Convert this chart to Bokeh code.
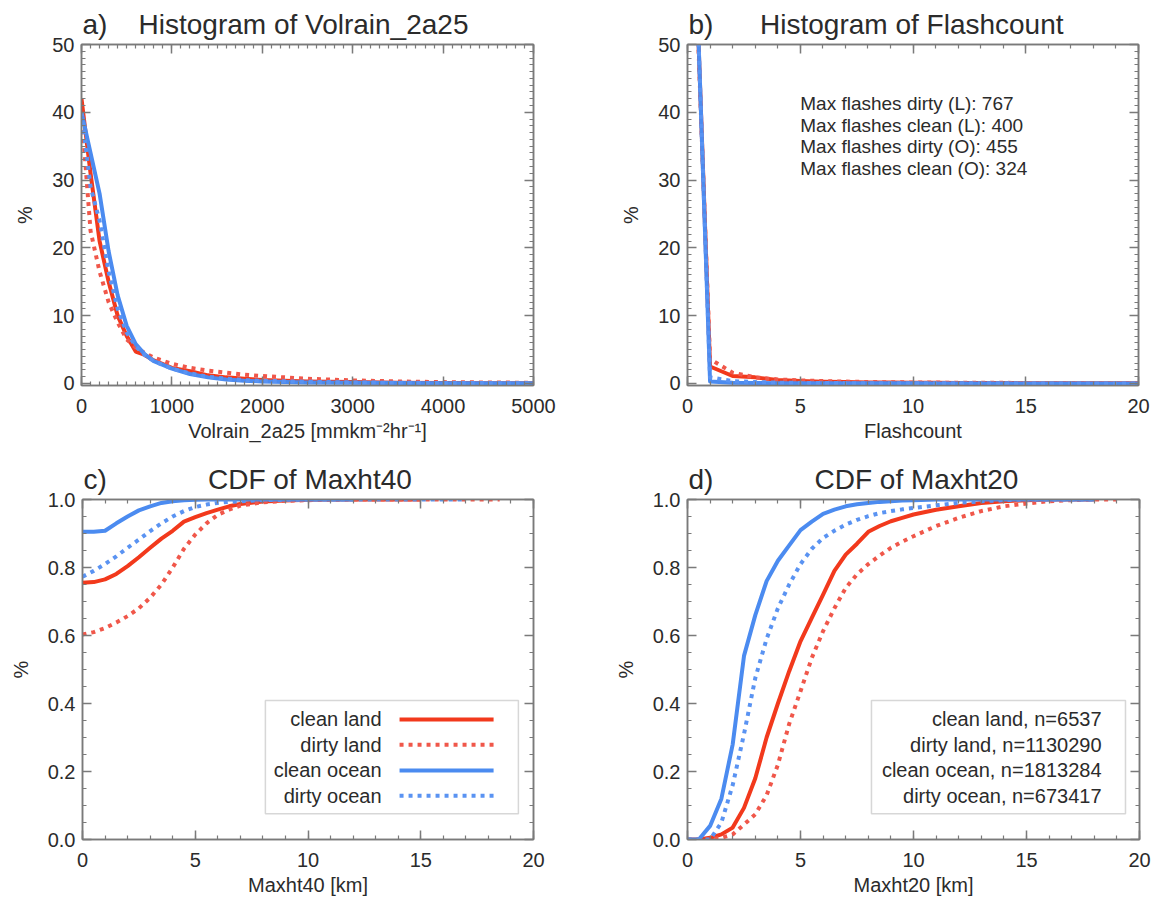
from bokeh.plotting import figure
from bokeh.models import (Range1d, SingleIntervalTicker, LinearAxis,
                          BoxAnnotation, PrintfTickFormatter, CustomJSTickFormatter)
from bokeh.layouts import row, column
from bokeh.embed import file_html
from bokeh.resources import INLINE

FONT = "Liberation Sans"
GRAY = "#7a7a7a"
TEXT = "#2b2b2b"
NBSP = "\u00a0"

SERIES = ["clean land", "dirty land", "clean ocean", "dirty ocean"]
COLORS = {"clean land": "#f2391c", "dirty land": "#f0574a",
          "clean ocean": "#4b8bf0", "dirty ocean": "#5a93f2"}
DASHES = {"clean land": "solid", "dirty land": "4 5",
          "clean ocean": "solid", "dirty ocean": "4 5"}

# --- a) Volrain_2a25 histogram (%)
volrain_x = [0, 100, 200, 300, 400, 500, 600, 700, 800, 1000, 1200, 1400, 1600,
             1800, 2000, 2500, 3000, 3500, 4000, 4500, 5000]
volrain_clean_land = [42, 31, 21, 15, 10, 7, 4.7, 4.2, 3.4, 2.3, 1.8, 1.2, 0.9,
                      0.7, 0.5, 0.3, 0.2, 0.12, 0.08, 0.05, 0.03]
volrain_dirty_land = [40, 22.5, 16.5, 12, 9, 6.5, 5.3, 4.5, 3.8, 2.9, 2.3, 1.9, 1.6,
                      1.3, 1.1, 0.7, 0.45, 0.3, 0.2, 0.15, 0.1]
volrain_clean_ocean = [40, 34, 28, 19.5, 13, 8.5, 5.8, 4.3, 3.3, 2.2, 1.4, 0.9, 0.6,
                       0.4, 0.3, 0.15, 0.1, 0.06, 0.04, 0.03, 0.02]
volrain_dirty_ocean = [40, 29, 24, 16.5, 11, 7.5, 5.5, 4.2, 3.3, 2.2, 1.5, 1.0, 0.7,
                       0.5, 0.4, 0.25, 0.15, 0.1, 0.07, 0.05, 0.05]

# --- b) Flashcount histogram (%)
flash_x = list(range(0, 21))
flash_clean_land = [96, 2.5, 1.1, 0.9, 0.5, 0.35, 0.25, 0.2, 0.16, 0.13, 0.11, 0.09,
                    0.08, 0.07, 0.06, 0.05, 0.05, 0.04, 0.04, 0.03, 0.03]
flash_dirty_land = [93, 3.6, 1.6, 0.9, 0.6, 0.45, 0.35, 0.28, 0.22, 0.18, 0.15, 0.13,
                    0.11, 0.1, 0.09, 0.08, 0.07, 0.06, 0.05, 0.05, 0.04]
flash_clean_ocean = [99, 0.3, 0.12, 0.07, 0.05, 0.04, 0.03, 0.03, 0.02, 0.02, 0.02,
                     0.01, 0.01, 0.01, 0.01, 0.01, 0.01, 0.01, 0.01, 0.01, 0.01]
flash_dirty_ocean = [98, 0.9, 0.35, 0.2, 0.12, 0.08, 0.06, 0.05, 0.04, 0.03, 0.03,
                     0.02, 0.02, 0.02, 0.02, 0.01, 0.01, 0.01, 0.01, 0.01, 0.01]
max_flash_lines = ["Max flashes dirty (L): 767", "Max flashes clean (L): 400",
                   "Max flashes dirty (O): 455", "Max flashes clean (O): 324"]

# --- c) CDF of Maxht40
ht40_x = [0, 0.5, 1, 1.5, 2, 2.5, 3, 3.5, 4, 4.5, 5, 5.5, 6, 6.5, 7, 8, 9, 10,
          11, 12, 13, 14, 15, 16, 17, 18, 18.5]
ht40_clean_land = [0.755, 0.757, 0.765, 0.781, 0.804, 0.83, 0.858, 0.885, 0.908,
                   0.935, 0.948, 0.96, 0.97, 0.98, 0.987, 0.994, 0.997, 0.999,
                   1.0, 1.0, 1.0, 1.0, 1.0]
ht40_dirty_land = [0.603, 0.61, 0.622, 0.638, 0.657, 0.68, 0.711, 0.75, 0.80, 0.855,
                   0.897, 0.93, 0.955, 0.97, 0.982, 0.992, 0.996, 0.998, 0.999,
                   1.0, 1.0, 1.0, 1.0, 1.0, 1.0, 1.0, 1.0]
ht40_clean_ocean = [0.905, 0.905, 0.908, 0.93, 0.95, 0.968, 0.98, 0.99, 0.995,
                    0.998, 0.999, 1.0, 1.0, 1.0, 1.0, 1.0, 1.0, 1.0, 1.0, 1.0]
ht40_dirty_ocean = [0.773, 0.79, 0.81, 0.833, 0.858, 0.882, 0.907, 0.93, 0.95,
                    0.966, 0.978, 0.985, 0.99, 0.993, 0.995, 0.998, 0.999, 1.0,
                    1.0, 1.0, 1.0, 1.0, 1.0, 1.0, 1.0]

# --- d) CDF of Maxht20
ht20_x = [0, 0.5, 1, 1.5, 2, 2.5, 3, 3.5, 4, 4.5, 5, 5.5, 6, 6.5, 7, 7.5, 8, 8.5,
          9, 9.5, 10, 11, 12, 13, 14, 15, 16, 17, 18, 19]
ht20_clean_land = [0, 0, 0.005, 0.015, 0.035, 0.093, 0.18, 0.30, 0.40, 0.495, 0.583,
                   0.652, 0.72, 0.79, 0.838, 0.87, 0.905, 0.922, 0.936, 0.946,
                   0.956, 0.97, 0.98, 0.99, 0.995, 0.998, 1.0, 1.0, 1.0]
ht20_dirty_land = [0, 0, 0, 0.005, 0.015, 0.044, 0.074, 0.13, 0.22, 0.34, 0.436,
                   0.534, 0.613, 0.68, 0.74, 0.78, 0.81, 0.835, 0.858, 0.876,
                   0.892, 0.922, 0.946, 0.966, 0.98, 0.988, 0.995, 0.998, 1.0, 1.0]
ht20_clean_ocean = [0, 0, 0.04, 0.12, 0.28, 0.54, 0.66, 0.76, 0.82, 0.865, 0.91,
                    0.935, 0.958, 0.97, 0.98, 0.986, 0.99, 0.993, 0.995, 0.997,
                    0.998, 1.0, 1.0, 1.0, 1.0, 1.0, 1.0, 1.0, 1.0]
ht20_dirty_ocean = [0, 0, 0, 0.05, 0.16, 0.31, 0.475, 0.59, 0.68, 0.75, 0.81,
                    0.855, 0.887, 0.908, 0.926, 0.94, 0.951, 0.96, 0.966, 0.971,
                    0.975, 0.983, 0.99, 0.995, 0.998, 1.0, 1.0, 1.0, 1.0]
ht20_counts = {"clean land": 6537, "dirty land": 1130290,
               "clean ocean": 1813284, "dirty ocean": 673417}


def style_axis(ax):
    ax.axis_line_color = GRAY
    ax.axis_line_width = 1.5
    ax.major_tick_line_color = GRAY
    ax.minor_tick_line_color = GRAY
    ax.major_tick_line_width = 1.5
    ax.minor_tick_line_width = 1.2
    ax.major_tick_in = 9
    ax.major_tick_out = 0
    ax.minor_tick_in = 4
    ax.minor_tick_out = 0
    ax.major_label_text_font = FONT
    ax.major_label_text_font_size = "20px"
    ax.major_label_text_color = TEXT
    ax.axis_label_text_font = FONT
    ax.axis_label_text_font_size = "20px"
    ax.axis_label_text_font_style = "normal"
    ax.axis_label_text_color = TEXT


def blank_axis(ticker):
    ax = LinearAxis(ticker=ticker,
                    formatter=CustomJSTickFormatter(code="return ''"))
    style_axis(ax)
    ax.major_label_standoff = 0
    return ax


def panel(xr, yr, frame, borders, xtick, ytick, xlabel, tag, gap, title, yfmt=None):
    fw, fh = frame
    bl, br, bt, bb = borders
    p = figure(frame_width=fw, frame_height=fh,
               x_range=Range1d(*xr), y_range=Range1d(*yr),
               min_border_left=bl, min_border_right=br,
               min_border_top=bt, min_border_bottom=bb,
               output_backend="svg", toolbar_location=None,
               background_fill_color="white", border_fill_color="white",
               outline_line_color=GRAY, outline_line_width=1.5)
    p.grid.visible = False
    p.xaxis.ticker = SingleIntervalTicker(interval=xtick[0], num_minor_ticks=xtick[1])
    p.yaxis.ticker = SingleIntervalTicker(interval=ytick[0], num_minor_ticks=ytick[1])
    style_axis(p.xaxis[0])
    style_axis(p.yaxis[0])
    p.xaxis.axis_label = xlabel
    p.yaxis.axis_label = "%"
    p.xaxis.major_label_standoff = 13
    p.yaxis.major_label_standoff = 7
    p.xaxis.axis_label_standoff = 4
    p.yaxis.axis_label_standoff = 13
    if yfmt:
        p.yaxis.formatter = PrintfTickFormatter(format=yfmt)
    p.add_layout(blank_axis(SingleIntervalTicker(interval=xtick[0], num_minor_ticks=xtick[1])), "above")
    p.add_layout(blank_axis(SingleIntervalTicker(interval=ytick[0], num_minor_ticks=ytick[1])), "right")
    # panel tag and heading share one title line
    p.title.text = tag + NBSP * gap + title
    p.title.align = "left"
    p.title.offset = 1
    p.title.standoff = 9
    p.title.text_font = FONT
    p.title.text_font_size = "28px"
    p.title.text_font_style = "normal"
    p.title.text_color = TEXT
    return p


def draw(p, x, series):
    for name in SERIES:
        ys = series[name]
        p.line(x[:len(ys)], ys, line_color=COLORS[name], line_width=4,
               line_dash=DASHES[name], line_join="round")


# a)
pa = panel((0, 5000), (-0.3, 50), (452, 341), (81, 47, 44, 65), (1000, 10), (10, 10),
           "Volrain_2a25 [mmkm\u207b\u00b2hr\u207b\u00b9]", "a)", 4, "Histogram of Volrain_2a25")
draw(pa, volrain_x, {"clean land": volrain_clean_land, "dirty land": volrain_dirty_land,
                     "clean ocean": volrain_clean_ocean, "dirty ocean": volrain_dirty_ocean})

# b)
pb = panel((0, 20), (-0.3, 50), (451, 341), (107, 20, 44, 65), (5, 5), (10, 10),
           "Flashcount", "b)", 6, "Histogram of Flashcount")
draw(pb, flash_x, {"clean land": flash_clean_land, "dirty land": flash_dirty_land,
                   "clean ocean": flash_clean_ocean, "dirty ocean": flash_dirty_ocean})
pb.text(x=[5.0] * len(max_flash_lines), y=[41.3, 38.1, 34.9, 31.7], text=max_flash_lines,
        text_font={"value": FONT}, text_font_size="19px", text_color=TEXT,
        text_baseline="middle", text_align="left")

# c)
pc = panel((0, 20), (0, 1), (451, 340), (82, 47, 49, 58), (5, 5), (0.2, 4),
           "Maxht40 [km]", "c)", 13, "CDF of Maxht40", yfmt="%.1f")
draw(pc, ht40_x, {"clean land": ht40_clean_land, "dirty land": ht40_dirty_land,
                  "clean ocean": ht40_clean_ocean, "dirty ocean": ht40_dirty_ocean})

# d)
pd_ = panel((0, 20), (0, 1), (452, 340), (107, 19, 49, 58), (5, 5), (0.2, 4),
            "Maxht20 [km]", "d)", 13, "CDF of Maxht20", yfmt="%.1f")
draw(pd_, ht20_x, {"clean land": ht20_clean_land, "dirty land": ht20_dirty_land,
                   "clean ocean": ht20_clean_ocean, "dirty ocean": ht20_dirty_ocean})

# legend boxes (data units of the CDF panels)
LEG_TOP, LEG_BOTTOM = 0.409, 0.076
LEG_ROWS = [0.353, 0.279, 0.203, 0.129]

pc.add_layout(BoxAnnotation(left=8.11, right=19.33, top=LEG_TOP, bottom=LEG_BOTTOM,
                            fill_color="white", fill_alpha=1, line_color=GRAY,
                            line_width=1.5, level="underlay"))
pc.text(x=[13.26] * 4, y=LEG_ROWS, text=SERIES, text_font={"value": FONT},
        text_font_size="20px", text_color=TEXT, text_align="right",
        text_baseline="middle")
for name, yrow in zip(SERIES, LEG_ROWS):
    pc.line([14.06, 18.23], [yrow, yrow], line_color=COLORS[name], line_width=4,
            line_dash=DASHES[name])

pd_.add_layout(BoxAnnotation(left=8.14, right=19.38, top=LEG_TOP, bottom=LEG_BOTTOM,
                             fill_color="white", fill_alpha=1, line_color=GRAY,
                             line_width=1.5, level="underlay"))
pd_.text(x=[18.32] * 4, y=LEG_ROWS,
         text=[f"{name}, n={ht20_counts[name]}" for name in SERIES],
         text_font={"value": FONT}, text_font_size="20px", text_color=TEXT,
         text_align="right", text_baseline="middle")

layout = column(row(pa, pb), row(pc, pd_))
open("out.html", "w").write(file_html(layout, INLINE))
